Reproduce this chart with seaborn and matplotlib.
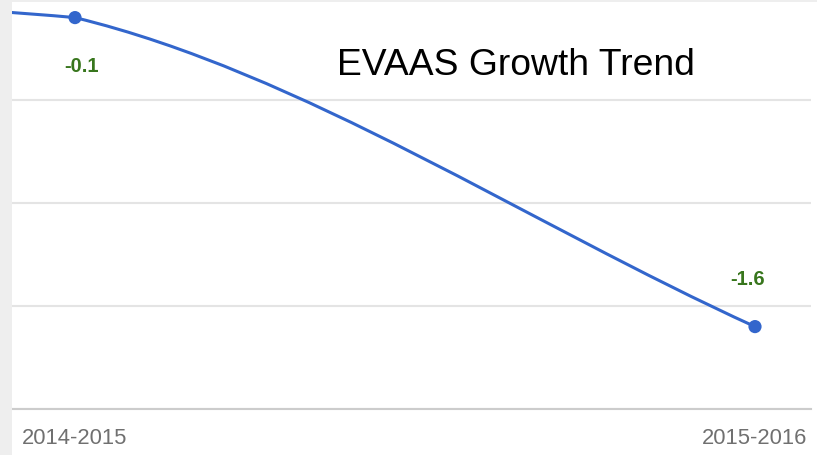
import numpy as np
import pandas as pd
import matplotlib
matplotlib.use("Agg")
import matplotlib.pyplot as plt
from matplotlib.path import Path
from matplotlib.patches import PathPatch, Rectangle
import seaborn as sns

# Datos (el primer curso queda fuera del recorte, solo se ve la curva que entra por la izquierda)
cursos = ["2013-2014", "2014-2015", "2015-2016"]
crecimiento = [0.0, -0.1, -1.6]
etiquetas = ["", "-0.1", "-1.6"]
titulo = "EVAAS Growth Trend"

df = pd.DataFrame({"curso": cursos, "valor": crecimiento})
df["pos"] = np.arange(len(df))

sns.set_style("white")
plt.rcParams["font.family"] = ["Liberation Sans", "DejaVu Sans"]

azul = "#3366cc"
verde = "#38761d"

fig = plt.figure(figsize=(8.17, 4.55), dpi=100)
fig.patch.set_facecolor("white")
W, H = 817, 455
ax = fig.add_axes([12 / W, (H - 409) / H, (811 - 12) / W, (409 - 2) / H])

# Curva suavizada estilo Google Charts (bezier con puntos de control acotados)
xs = df["pos"].to_numpy(dtype=float)
ys = df["valor"].to_numpy(dtype=float)
n = len(xs)
tang = np.zeros(n)
for i in range(n):
    if i == 0:
        tang[i] = (ys[1] - ys[0]) / (xs[1] - xs[0])
    elif i == n - 1:
        tang[i] = (ys[i] - ys[i - 1]) / (xs[i] - xs[i - 1])
    else:
        tang[i] = (ys[i + 1] - ys[i - 1]) / (xs[i + 1] - xs[i - 1])

verts = [(xs[0], ys[0])]
codes = [Path.MOVETO]
for i in range(n - 1):
    dx = (xs[i + 1] - xs[i]) / 3
    lo, hi = min(ys[i], ys[i + 1]), max(ys[i], ys[i + 1])
    c1 = (xs[i] + dx, np.clip(ys[i] + tang[i] * dx, lo, hi))
    c2 = (xs[i + 1] - dx, np.clip(ys[i + 1] - tang[i + 1] * dx, lo, hi))
    verts += [c1, c2, (xs[i + 1], ys[i + 1])]
    codes += [Path.CURVE4] * 3
ax.add_patch(PathPatch(Path(verts, codes), fill=False, edgecolor=azul, lw=2.2,
                       capstyle="round", joinstyle="round", zorder=3))

sns.scatterplot(data=df, x="pos", y="valor", ax=ax, color=azul, s=90,
                edgecolor="none", zorder=4, legend=False)

for x, y, txt, off in zip(xs, ys, etiquetas, [(0, 0), (5, -39), (-5, 30)]):
    if txt:
        ax.annotate(txt, (x, y), xytext=off, textcoords="offset points",
                    ha="center", va="baseline", color=verde,
                    fontsize=14.5, fontweight="bold")

ax.set_xticks(df["pos"])
ax.set_xticklabels(df["curso"])
ax.set_xlim(1 - 63 / 680, 2 + 56 / 680)
ax.set_yticks([-2, -1.5, -1, -0.5])
ax.set_yticklabels([])
ax.set_ylim(-2, -2 + 407 / 206)
ax.tick_params(axis="y", length=0)
ax.grid(axis="y", color="#e4e4e4", lw=1.5)
ax.set_axisbelow(True)
ax.tick_params(axis="x", direction="out", length=11, width=0.8, color="#d9d9d9",
               labelcolor="#707070", labelsize=15.8, pad=3)
for s in ["top", "right", "left"]:
    ax.spines[s].set_visible(False)
ax.spines["bottom"].set_color("#cccccc")
ax.spines["bottom"].set_linewidth(1.5)
ax.set_xlabel("")
ax.set_ylabel("")

fig.text(515.5 / W, (H - 75) / H, titulo, ha="center", va="baseline",
         fontsize=26.8, color="black")

# franjas grises del borde del recorte
fig.add_artist(Rectangle((0, 0), 12 / W, 1, transform=fig.transFigure,
                         facecolor="#eeeeee", edgecolor="none"))
fig.add_artist(Rectangle((0, 1 - 2 / H), 1, 2 / H, transform=fig.transFigure,
                         facecolor="#eeeeee", edgecolor="none"))

fig.savefig("out.png", dpi=100, facecolor=fig.get_facecolor())
